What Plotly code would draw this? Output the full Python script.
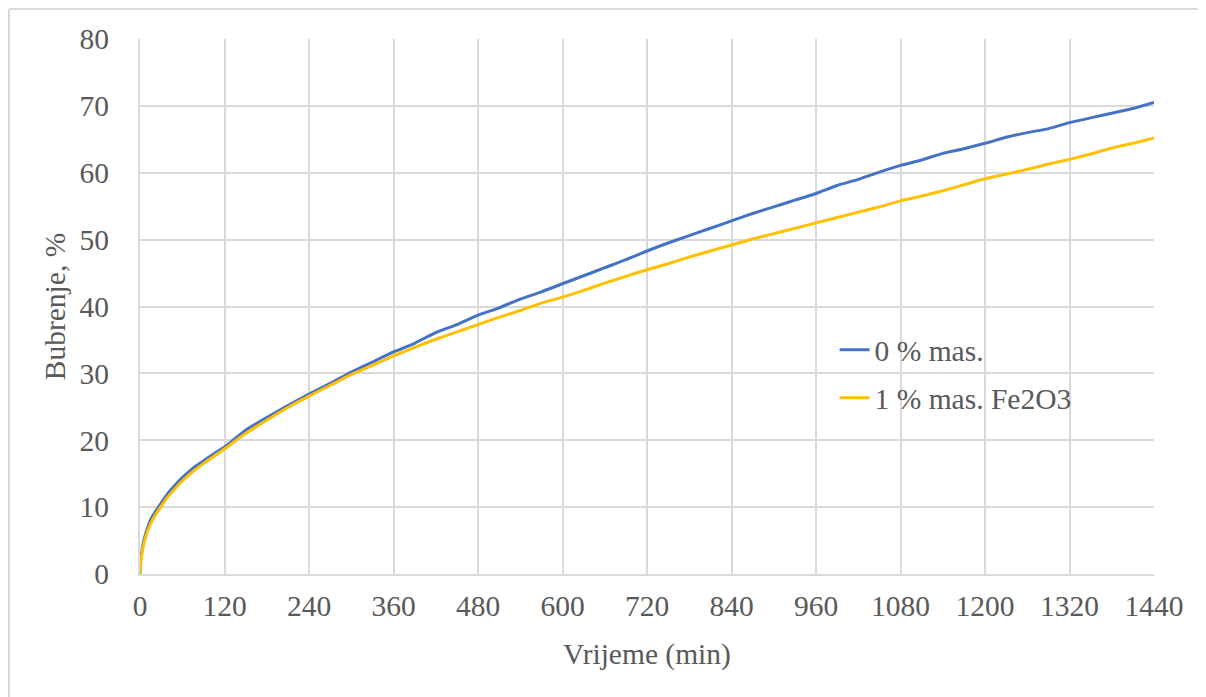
import plotly.graph_objects as go

time_min = [0, 1, 3, 5, 10, 15, 20, 30, 40, 50, 60, 75, 90, 105, 120, 150, 180, 210, 240, 270,
            300, 330, 360, 390, 420, 450, 480, 510, 540, 570, 600, 630, 660, 690, 720, 750, 780,
            810, 840, 870, 900, 930, 960, 990, 1020, 1050, 1080, 1110, 1140, 1170, 1200, 1230,
            1260, 1290, 1320, 1350, 1380, 1410, 1440]

swelling_0 = [0, 2.0, 3.6, 4.8, 6.7, 8.1, 9.0, 10.6, 12.1, 13.3, 14.4, 15.8, 16.9, 18.0, 19.0,
              21.5, 23.4, 25.2, 26.9, 28.5, 30.2, 31.7, 33.2, 34.5, 36.1, 37.3, 38.7, 39.8, 41.1,
              42.2, 43.4, 44.6, 45.8, 47.0, 48.3, 49.5, 50.6, 51.7, 52.8, 53.9, 54.9, 55.9, 56.9,
              58.1, 59.0, 60.1, 61.1, 61.9, 62.9, 63.6, 64.4, 65.3, 66.0, 66.6, 67.5, 68.2, 68.9,
              69.6, 70.5]

swelling_fe = [0, 1.6, 3.2, 4.3, 6.2, 7.5, 8.5, 10.1, 11.6, 12.8, 13.9, 15.3, 16.5, 17.6, 18.7,
               21.0, 23.0, 24.9, 26.6, 28.2, 29.8, 31.2, 32.6, 33.9, 35.1, 36.2, 37.3, 38.4, 39.4,
               40.5, 41.4, 42.4, 43.5, 44.5, 45.5, 46.4, 47.4, 48.3, 49.2, 50.1, 50.9, 51.7, 52.5,
               53.3, 54.1, 54.9, 55.8, 56.5, 57.3, 58.2, 59.1, 59.8, 60.5, 61.3, 62.0, 62.8, 63.7,
               64.4, 65.2]

x_ticks = list(range(0, 1441, 120))
y_ticks = list(range(0, 81, 10))

FONT = "Liberation Serif, Times New Roman, serif"
GRID = "#d9d9d9"
TXT = "#595959"
FS = 29.5

fig = go.Figure()
fig.add_trace(go.Scatter(x=time_min, y=swelling_0, mode="lines", name="0 % mas.",
                         line=dict(color="#4472C4", width=3, shape="spline", smoothing=0.6),
                         legend="legend", showlegend=True))
fig.add_trace(go.Scatter(x=time_min, y=swelling_fe, mode="lines", name="1 % mas. Fe2O3",
                         line=dict(color="#FFC000", width=3, shape="spline", smoothing=0.6),
                         legend="legend2", showlegend=True))

legend_common = dict(font=dict(family=FONT, size=FS, color=TXT), bgcolor="rgba(0,0,0,0)",
                     xanchor="left", yanchor="middle", x=0.685)

# frame: only top and left edges are visible in the reference
fx0, fy1 = -131 / 1014, 565 / 535
frame_line = dict(color="#d9d9d9", width=2)

fig.update_layout(
    width=1198, height=689,
    margin=dict(l=132, r=52, t=31, b=123),
    paper_bgcolor="white", plot_bgcolor="white",
    showlegend=True,
    font=dict(family=FONT, size=FS, color=TXT),
    legend=dict(**legend_common, y=(574 - 350) / 535),
    legend2=dict(**legend_common, y=(574 - 398) / 535),
    xaxis=dict(range=[0, 1440], tickvals=x_ticks, ticktext=[str(v) for v in x_ticks],
               showgrid=True, gridcolor=GRID, gridwidth=1.5, zeroline=False,
               showline=True, linecolor=GRID, linewidth=2, ticks="", ticklabelstandoff=5,
               tickfont=dict(family=FONT, size=FS, color=TXT),
               title=dict(text="Vrijeme (min)", font=dict(family=FONT, size=FS, color=TXT), standoff=22)),
    yaxis=dict(range=[0, 80], tickvals=y_ticks, ticktext=[str(v) for v in y_ticks],
               showgrid=True, gridcolor=GRID, gridwidth=1.5, zeroline=False,
               showline=True, linecolor=GRID, linewidth=2, ticks="", ticklabelstandoff=23,
               tickfont=dict(family=FONT, size=FS, color=TXT),
               title=dict(text="Bubrenje, %", font=dict(family=FONT, size=FS, color=TXT), standoff=5)),
    shapes=[
        dict(type="line", xref="paper", yref="paper", x0=fx0, x1=1.06, y0=fy1, y1=fy1,
             line=frame_line, layer="below"),
        dict(type="line", xref="paper", yref="paper", x0=fx0, x1=fx0, y0=-0.25, y1=fy1,
             line=frame_line, layer="below"),
    ],
)

fig.write_html("out.html")
